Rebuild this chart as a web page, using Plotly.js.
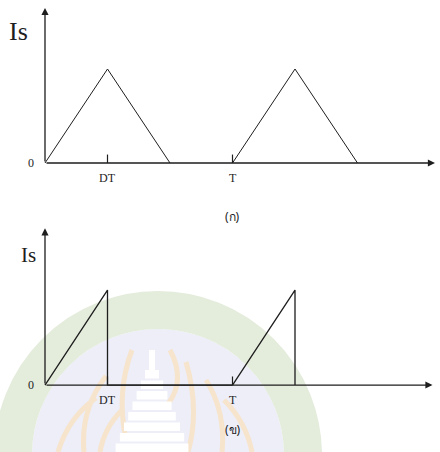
<!DOCTYPE html>
<html>
<head>
<meta charset="utf-8">
<script src="https://cdn.plot.ly/plotly-3.0.1.min.js"></script>
<style>
  html, body { margin: 0; padding: 0; background: #ffffff; }
  #chart { width: 440px; height: 452px; }
</style>
</head>
<body>
<div id="chart"></div>
<script>
// Switch current Is: time in units of DT (T = 3 DT), current normalised to its peak.
const triTime1 = [0, 1, 2];
const triCurr1 = [0, 1, 0];
const triTime2 = [3, 4, 5];
const triCurr2 = [0, 1, 0];

const sawTime1 = [0, 1, 1, 3];
const sawCurr1 = [0, 1, 0, 0];
const sawTime2 = [3, 4, 4];
const sawCurr2 = [0, 1, 0];

const tickVals = [1, 3];
const tickText = ['DT', 'T'];
const originText = '0';
const yLabel = 'Is';
const panelLabels = ['(ก)', '(ข)'];

const W = 440, H = 452;
const ink = '#1e1e1e';
const serif = 'Liberation Serif, DejaVu Serif, serif';

// pixel -> paper helpers for the background emblem
const px = v => v / W;
const py = v => 1 - v / H;

function wave(x, y, xa, ya, w) {
  return { x: x, y: y, xaxis: xa, yaxis: ya, type: 'scatter', mode: 'lines',
           line: { color: ink, width: w }, hoverinfo: 'skip', showlegend: false };
}

const traces = [
  wave(triTime1, triCurr1, 'x', 'y', 1),
  wave(triTime2, triCurr2, 'x', 'y', 1),
  wave(sawTime1, sawCurr1, 'x2', 'y2', 1.3),
  wave(sawTime2, sawCurr2, 'x2', 'y2', 1.3)
];

const hidden = { showgrid: false, zeroline: false, showticklabels: false,
                 showline: false, ticks: '', fixedrange: true };

const layout = {
  width: W, height: H,
  margin: { l: 0, r: 0, t: 0, b: 0 },
  paper_bgcolor: '#ffffff', plot_bgcolor: 'rgba(0,0,0,0)',
  showlegend: false,
  xaxis:  Object.assign({}, hidden, { domain: [0, 1], range: [-0.72, 6.32], anchor: 'y' }),
  yaxis:  Object.assign({}, hidden, { domain: [0.5, 1], range: [-0.670, 1.734], anchor: 'x' }),
  xaxis2: Object.assign({}, hidden, { domain: [0, 1], range: [-0.72, 6.32], anchor: 'y2' }),
  yaxis2: Object.assign({}, hidden, { domain: [0, 0.5], range: [-0.705, 1.674], anchor: 'x2' }),
  shapes: [],
  annotations: []
};

// faint university emblem in the lower half
layout.shapes.push(
  { type: 'circle', xref: 'paper', yref: 'paper', layer: 'below',
    x0: px(158 - 126), x1: px(158 + 126), y0: py(455 + 126), y1: py(455 - 126),
    fillcolor: 'rgb(237,238,247)', line: { width: 0 } },
  { type: 'circle', xref: 'paper', yref: 'paper', layer: 'below',
    x0: px(158 - 145), x1: px(158 + 145), y0: py(455 + 145), y1: py(455 - 145),
    fillcolor: 'rgba(0,0,0,0)', line: { color: 'rgb(228,236,220)', width: 38 } }
);
const flames = [
  [[58, 452], [68, 418], [96, 398]],
  [[84, 452], [80, 410], [106, 376]],
  [[126, 440], [116, 392], [132, 350]],
  [[100, 452], [104, 428], [122, 410]],
  [[170, 350], [186, 380], [168, 404]],
  [[186, 362], [200, 410], [188, 452]],
  [[206, 380], [226, 412], [222, 452]],
  [[224, 400], [246, 422], [252, 452]]
];
flames.forEach(f => {
  layout.shapes.push({
    type: 'path', xref: 'paper', yref: 'paper', layer: 'below',
    path: `M ${px(f[0][0])} ${py(f[0][1])} Q ${px(f[1][0])} ${py(f[1][1])} ${px(f[2][0])} ${py(f[2][1])}`,
    line: { color: 'rgb(247,228,204)', width: 5 }
  });
});
// stepped pagoda
layout.shapes.push({ type: 'rect', xref: 'paper', yref: 'paper', layer: 'below',
  x0: px(149), x1: px(155), y0: py(370), y1: py(350), fillcolor: '#ffffff', line: { width: 0 } });
for (let i = 0; i < 8; i++) {
  const yTop = 370 + i * 10.5;
  const half = 7 + i * 4.2;
  layout.shapes.push({ type: 'rect', xref: 'paper', yref: 'paper', layer: 'below',
    x0: px(152 - half), x1: px(152 + half), y0: py(yTop + 8.5), y1: py(yTop),
    fillcolor: '#ffffff', line: { width: 0 } });
}

// axes with arrowheads, tick marks and labels for both panels
const panels = [
  { xa: 'x', ya: 'y', xTip: 6.24, yTip: 1.65, isX: -0.43, isY: 1.40, isSize: 26,
    labY: -0.574, label: panelLabels[0] },
  { xa: 'x2', ya: 'y2', xTip: 6.2, yTip: 1.65, isX: -0.27, isY: 1.37, isSize: 21,
    labY: -0.47, label: panelLabels[1] }
];
panels.forEach(p => {
  const xa = p.xa, ya = p.ya;
  layout.annotations.push(
    { xref: xa, yref: ya, axref: xa, ayref: ya, x: p.xTip, y: 0, ax: 0, ay: 0,
      text: '', showarrow: true, arrowhead: 2, arrowsize: 1.1, arrowwidth: 1.3, arrowcolor: ink },
    { xref: xa, yref: ya, axref: xa, ayref: ya, x: 0, y: p.yTip, ax: 0, ay: 0,
      text: '', showarrow: true, arrowhead: 2, arrowsize: 1.1, arrowwidth: 1.3, arrowcolor: ink },
    { xref: xa, yref: ya, x: p.isX, y: p.isY, text: yLabel, showarrow: false,
      font: { family: serif, size: p.isSize, color: ink } },
    { xref: xa, yref: ya, x: 0, y: 0, xshift: -14, text: originText, showarrow: false,
      font: { family: serif, size: 12, color: ink } },
    { xref: xa, yref: ya, x: 3, y: p.labY, text: p.label, showarrow: false,
      font: { family: 'Noto Sans, DejaVu Sans, sans-serif', size: 12, color: ink } }
  );
  tickVals.forEach((v, i) => {
    layout.shapes.push({ type: 'line', xref: xa, yref: ya, x0: v, x1: v, y0: 0, y1: 0.09,
      line: { color: ink, width: 1.2 } });
    layout.annotations.push({ xref: xa, yref: ya, x: v, y: 0, yshift: -15,
      text: tickText[i], showarrow: false, font: { family: serif, size: 12, color: ink } });
  });
});

Plotly.newPlot('chart', traces, layout, { displayModeBar: false, staticPlot: true });
</script>
</body>
</html>
